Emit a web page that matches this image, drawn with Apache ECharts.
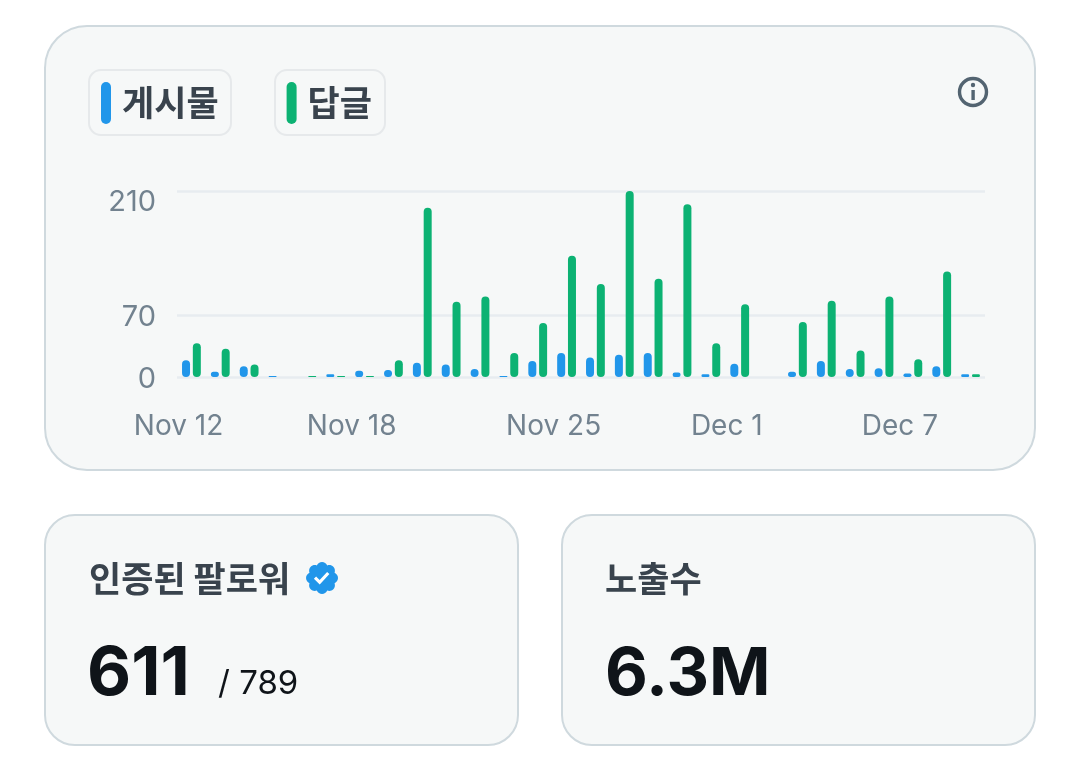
<!DOCTYPE html>
<html><head><meta charset="utf-8">
<style>html,body{margin:0;padding:0;background:#fff}#c{width:1080px;height:763px}</style>
<script src="https://cdn.jsdelivr.net/npm/echarts@6/dist/echarts.min.js"></script>
</head><body><div id="c"></div>
<script>
const dates = ['Nov 12','Nov 13','Nov 14','Nov 15','Nov 16','Nov 17','Nov 18','Nov 19','Nov 20','Nov 21','Nov 22','Nov 23','Nov 24','Nov 25','Nov 26','Nov 27','Nov 28','Nov 29','Nov 30','Dec 1','Dec 2','Dec 3','Dec 4','Dec 5','Dec 6','Dec 7','Dec 8','Dec 9'];
const tickDates = dates.concat(['Dec 10']);
const tickLabels = ['Nov 12','Nov 18','Nov 25','Dec 1','Dec 7'];
const yTicks = [0,70,210];
const posts = [19,6,12,1,0,3,7,8,16,14,9,1,18,27,22,25,27,5,3,15,0,6,18,9,10,4,12,3];
const replies = [38,32,14,0,1,1,1,19,191,85,91,27,61,137,105,210,111,195,38,82,0,62,86,30,91,20,119,3];
const seriesNames = ['게시물','답글'];
const colors = ['#2196ea','#0cb273'];
const fontKr = '"Noto Sans CJK KR","Noto Sans",sans-serif';
const fontLat = 'Inter,"Liberation Sans",sans-serif';
const pill = 'path://M5 0a5 5 0 0 1 5 5v32a5 5 0 0 1 -10 0v-32a5 5 0 0 1 5 -5z';
const verified = 'M22.25 12c0-1.43-.88-2.67-2.19-3.34.46-1.39.2-2.9-.81-3.91s-2.52-1.27-3.91-.81c-.66-1.31-1.91-2.19-3.34-2.19s-2.67.88-3.33 2.19c-1.4-.46-2.91-.2-3.92.81s-1.26 2.52-.8 3.91c-1.31.67-2.2 1.91-2.2 3.34s.89 2.67 2.2 3.34c-.46 1.39-.21 2.9.8 3.91s2.52 1.26 3.91.81c.67 1.31 1.91 2.19 3.34 2.19s2.68-.88 3.34-2.19c1.39.45 2.9.2 3.91-.81s1.27-2.52.81-3.91c1.31-.67 2.19-1.91 2.19-3.34zm-11.71 4.2L6.8 12.46l1.41-1.42 2.26 2.26 4.8-5.23 1.47 1.36-6.2 6.77z';
echarts.graphic.registerShape('verifiedBadge', echarts.graphic.extendPath(verified, {}));
function card(x,y,w,h,r){return {type:'rect',z:0,shape:{x,y,width:w,height:h,r},style:{fill:'#f6f8f8',stroke:'#cfd9de',lineWidth:2}};}
function chip(x,y,w,h){return {type:'rect',z:1,shape:{x,y,width:w,height:h,r:12},style:{fill:'#f6f8f8',stroke:'#e6e9eb',lineWidth:2}};}
function txt(x,y,t,size,weight,color,font){return {type:'text',z:2,x,y,style:{text:t,fontSize:size,fontWeight:weight,fill:color,fontFamily:font,verticalAlign:'middle',align:'left'}};}
const chart = echarts.init(document.getElementById('c'),null,{renderer:'canvas'});
chart.setOption({
  animation:false,
  backgroundColor:'#ffffff',
  legend:{
    left:96,top:77,itemWidth:10,itemHeight:42,itemGap:68,icon:pill,selectedMode:false,z:5,
    data:seriesNames,
    textStyle:{fontSize:35,fontWeight:700,color:'#39434d',fontFamily:fontKr,padding:[0,0,2,6]}
  },
  grid:{left:177,right:95,top:191,bottom:386},
  xAxis:[
    {type:'category',data:dates,axisLine:{show:false},axisTick:{show:false},axisLabel:{show:false},splitLine:{show:false}},
    {type:'category',data:tickDates,boundaryGap:false,position:'bottom',axisLine:{show:false},axisTick:{show:false},splitLine:{show:false},
     axisLabel:{margin:36,fontSize:28,color:'#72828f',fontFamily:fontLat,hideOverlap:false,showMinLabel:true,padding:[0,0,0,3],
       interval:(i,v)=>tickLabels.includes(v)}}
  ],
  yAxis:{type:'value',min:0,max:210,
    axisLine:{show:false},axisTick:{show:false,customValues:yTicks},
    splitLine:{show:true,lineStyle:{color:'#e7ecf0',width:2.5}},
    axisLabel:{margin:21,fontSize:29,color:'#72828f',fontFamily:fontLat,customValues:yTicks,padding:[4,0,0,0],
      formatter:v=>v===210?'{a|'+v+'}':String(v),
      rich:{a:{fontSize:29,color:'#72828f',fontFamily:fontLat,padding:[18,0,0,0]}}}
  },
  series:[
    {name:seriesNames[0],type:'bar',data:posts,barWidth:8,barGap:'35%',itemStyle:{color:colors[0],borderRadius:4}},
    {name:seriesNames[1],type:'bar',data:replies,barWidth:8,barGap:'35%',itemStyle:{color:colors[1],borderRadius:4}}
  ],
  graphic:{elements:[
    card(45,26,990,444,42),
    card(45,515,473,230,30),
    card(562,515,473,230,30),
    chip(89,70,142,65),
    chip(275,70,110,65),
    {type:'circle',z:2,shape:{cx:973,cy:92,r:13.5},style:{fill:'none',stroke:'#536471',lineWidth:3.4}},
    {type:'circle',z:2,shape:{cx:973,cy:85,r:2.2},style:{fill:'#536471'}},
    {type:'rect',z:2,shape:{x:971.4,y:90,width:3.4,height:10},style:{fill:'#536471'}},
    txt(89,579,'인증된 팔로워',35,700,'#39434d',fontKr),
    {type:'circle',z:2,shape:{cx:322,cy:578,r:9},style:{fill:'#ffffff'}},
    {type:'verifiedBadge',z:3,x:303.3,y:559.3,scaleX:1.56,scaleY:1.56,style:{fill:'#2196ea'}},
    txt(605,579,'노출수',35,700,'#39434d',fontKr),
    txt(87,675,'611',68,700,'#0f1419',fontLat),
    txt(218,684,'/ 789',33,400,'#0f1419',fontLat),
    txt(605,675,'6.3M',66,700,'#0f1419',fontLat)
  ]}
});
</script></body></html>
